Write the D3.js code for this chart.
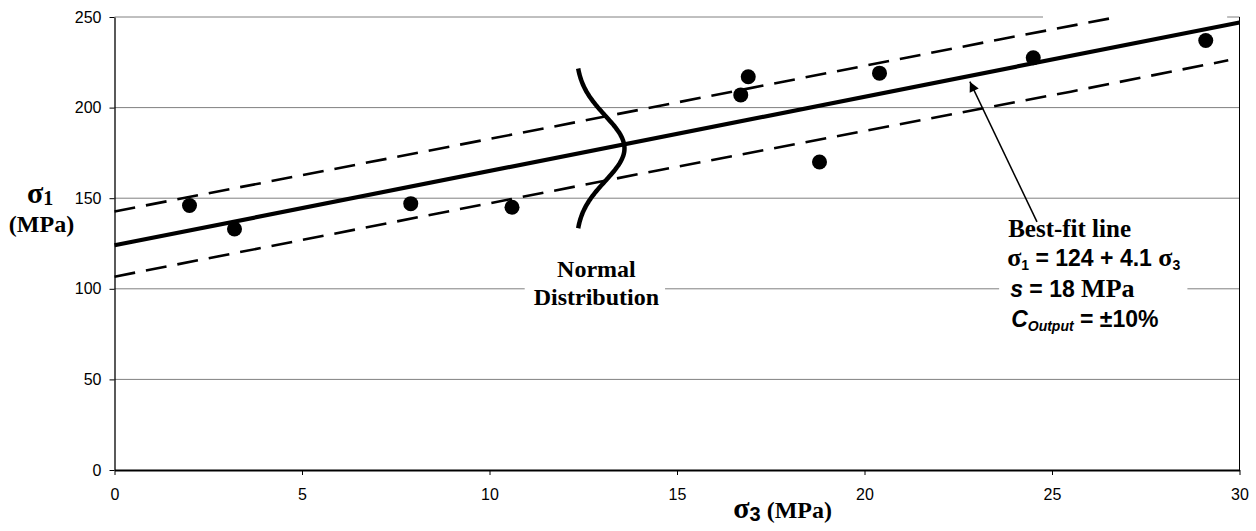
<!DOCTYPE html>
<html>
<head>
<meta charset="utf-8">
<script src="https://cdn.jsdelivr.net/npm/d3@7"></script>
<style>
  body { margin: 0; background: #fff; }
  svg { display: block; }
  .tick text { font-family: "Liberation Sans", Arial, sans-serif; font-size: 16px; fill: #000; }
  .serif { font-family: "Liberation Serif", "Times New Roman", serif; font-weight: bold; }
  .sans { font-family: "Liberation Sans", Arial, sans-serif; font-weight: bold; }
</style>
</head>
<body>
<div id="chart"></div>
<script>
// Data
var sigma3 = [2.0, 3.2, 7.9, 10.6, 16.7, 16.9, 18.8, 20.4, 24.5, 29.1];
var sigma1 = [146, 133, 147, 145, 207, 217, 170, 219, 227.5, 237];

// best-fit line  sigma1 = 124 + 4.1 sigma3
var fitIntercept = 124;
var fitSlope = 4.1;
var fitRange = [0, 30];

// dashed band (hand drawn)
var upperX = [0, 11.6, 23.6, 26.75];
var upperY = [142.7, 189.1, 237.6, 250];
var lowerX = [0, 14.55, 25.5, 29.7];
var lowerY = [106.7, 165.6, 208.8, 226.1];

// normal distribution sketch on the fit line
var normalBase = 12.3;   // sigma3 of the curve's baseline
var normalHeight = 1.3;  // bulge, in sigma3 units
var normalMean = 177.5;  // sigma1 at the peak
var normalSd = 18;       // s = 18 MPa

var xTicks = [0, 5, 10, 15, 20, 25, 30];
var yTicks = [0, 50, 100, 150, 200, 250];

// Step 1: chart area
var svgWidth = 1256;
var svgHeight = 531;
var margin = { top: 17, right: 16.5, bottom: 61, left: 114.5 };
var width = svgWidth - margin.left - margin.right;
var height = svgHeight - margin.top - margin.bottom;

var svg = d3.select("#chart").append("svg")
  .attr("width", svgWidth)
  .attr("height", svgHeight);

var chartGroup = svg.append("g")
  .attr("transform", `translate(${margin.left}, ${margin.top})`);

// Step 2: scales
var xScale = d3.scaleLinear().domain([0, 30]).range([0, width]);
var yScale = d3.scaleLinear().domain([0, 250]).range([height, 0]);

// gridlines
chartGroup.append("g")
  .selectAll("line")
  .data(yTicks.filter(d => d > 0))
  .enter()
  .append("line")
  .attr("x1", 0)
  .attr("x2", width)
  .attr("y1", d => yScale(d))
  .attr("y2", d => yScale(d))
  .attr("stroke", "#808080")
  .attr("stroke-width", 1);

// right border
chartGroup.append("line")
  .attr("x1", width).attr("x2", width)
  .attr("y1", 0).attr("y2", height)
  .attr("stroke", "#000")
  .attr("stroke-width", 1);

// Step 3: axes
var xAxis = d3.axisBottom(xScale).tickValues(xTicks).tickSize(5).tickSizeOuter(0).tickPadding(14);
var yAxis = d3.axisLeft(yScale).tickValues(yTicks).tickSize(5).tickSizeOuter(0).tickPadding(8);

var yAxisG = chartGroup.append("g").call(yAxis);
yAxisG.select(".domain").attr("stroke", "#000").attr("stroke-width", 1.3);
yAxisG.selectAll(".tick line").attr("stroke", "#000");

var xAxisG = chartGroup.append("g")
  .attr("transform", `translate(0, ${height})`)
  .call(xAxis);
xAxisG.select(".domain").attr("stroke", "#000").attr("stroke-width", 2);
xAxisG.selectAll(".tick line").attr("stroke", "#000");

// blank box hiding part of the top frame
chartGroup.append("rect")
  .attr("x", xScale(24.76))
  .attr("y", -5)
  .attr("width", xScale(29.67) - xScale(24.76))
  .attr("height", 9)
  .attr("fill", "#fff");

// Step 4: annotation text boxes (white backgrounds cut the gridlines)
function boxBehind(textSel, padL, padR, padT, padB) {
  var bb = textSel.node().getBBox();
  chartGroup.insert("rect", function() { return textSel.node(); })
    .attr("x", bb.x - padL)
    .attr("y", bb.y - padT)
    .attr("width", bb.width + padL + padR)
    .attr("height", bb.height + padT + padB)
    .attr("fill", "#fff");
}

var normalText = chartGroup.append("text")
  .attr("class", "serif")
  .attr("font-size", "24px")
  .attr("text-anchor", "middle");
normalText.append("tspan")
  .attr("x", xScale(12.85)).attr("y", yScale(106.7))
  .text("Normal");
normalText.append("tspan")
  .attr("x", xScale(12.85)).attr("y", yScale(91.1))
  .text("Distribution");
boxBehind(normalText, 9, 6, 2, 2);

var fitText = chartGroup.append("text").attr("fill", "#000");
var bx = xScale(23.83);

var l1 = fitText.append("tspan")
  .attr("class", "serif").attr("font-size", "25px")
  .attr("x", bx).attr("y", yScale(128.6))
  .text("Best-fit line");

fitText.append("tspan")
  .attr("class", "serif").attr("font-size", "26px")
  .attr("x", bx - 1).attr("y", yScale(112.6))
  .text("σ");
fitText.append("tspan")
  .attr("class", "sans").attr("font-size", "14px")
  .attr("dy", 4)
  .text("1");
fitText.append("tspan")
  .attr("class", "sans").attr("font-size", "23px")
  .attr("dy", -4)
  .text(" = " + fitIntercept + " + " + fitSlope + " ");
fitText.append("tspan")
  .attr("class", "serif").attr("font-size", "26px")
  .text("σ");
fitText.append("tspan")
  .attr("class", "sans").attr("font-size", "14px")
  .attr("dy", 4)
  .text("3");

fitText.append("tspan")
  .attr("class", "sans").attr("font-size", "23px").attr("font-style", "italic")
  .attr("x", bx + 2).attr("y", yScale(95.5))
  .text("s");
fitText.append("tspan")
  .attr("class", "sans").attr("font-size", "23px")
  .text(" = " + normalSd + " ");
fitText.append("tspan")
  .attr("class", "serif").attr("font-size", "26px")
  .text("MPa");

fitText.append("tspan")
  .attr("class", "sans").attr("font-size", "23px").attr("font-style", "italic")
  .attr("x", bx + 3).attr("y", yScale(78.9))
  .text("C");
fitText.append("tspan")
  .attr("class", "sans").attr("font-size", "14px").attr("font-style", "italic")
  .attr("dy", 4)
  .text("Output");
fitText.append("tspan")
  .attr("class", "sans").attr("font-size", "23px")
  .attr("dy", -4)
  .text(" = ±10%");
boxBehind(fitText, 8, 7, 4, 8);

// Step 5: lines
var bandLine = d3.line()
  .x(d => xScale(d[0]))
  .y(d => yScale(d[1]));

chartGroup.append("path")
  .datum(d3.zip(upperX, upperY))
  .attr("d", bandLine)
  .attr("fill", "none")
  .attr("stroke", "#000")
  .attr("stroke-width", 2.6)
  .attr("stroke-dasharray", "21,11");

chartGroup.append("path")
  .datum(d3.zip(lowerX, lowerY))
  .attr("d", bandLine)
  .attr("fill", "none")
  .attr("stroke", "#000")
  .attr("stroke-width", 2.6)
  .attr("stroke-dasharray", "21,11");

chartGroup.append("path")
  .datum(fitRange.map(x => [x, fitIntercept + fitSlope * x]))
  .attr("d", bandLine)
  .attr("fill", "none")
  .attr("stroke", "#000")
  .attr("stroke-width", 4.2);

// normal distribution, turned on its side
var normalPts = d3.range(-2.45, 2.451, 0.05).map(function(z) {
  return [normalBase + normalHeight * Math.exp(-z * z / 2), normalMean + z * normalSd];
});
chartGroup.append("path")
  .datum(normalPts)
  .attr("d", d3.line().x(d => xScale(d[0])).y(d => yScale(d[1])).curve(d3.curveBasis))
  .attr("fill", "none")
  .attr("stroke", "#000")
  .attr("stroke-width", 4.5);

// Step 6: points
chartGroup.append("g")
  .selectAll("circle")
  .data(d3.zip(sigma3, sigma1))
  .enter()
  .append("circle")
  .attr("cx", d => xScale(d[0]))
  .attr("cy", d => yScale(d[1]))
  .attr("r", 7.5)
  .attr("fill", "#000");

// arrow to the fit line
svg.append("defs").append("marker")
  .attr("id", "head")
  .attr("viewBox", "0 0 10 10")
  .attr("refX", 10).attr("refY", 5)
  .attr("markerWidth", 12).attr("markerHeight", 10)
  .attr("markerUnits", "userSpaceOnUse")
  .attr("orient", "auto")
  .append("path")
  .attr("d", "M0,0 L10,5 L0,10 Z")
  .attr("fill", "#000");

chartGroup.append("line")
  .attr("x1", xScale(24.6)).attr("y1", yScale(136.9))
  .attr("x2", xScale(22.81)).attr("y2", yScale(214.3))
  .attr("stroke", "#000")
  .attr("stroke-width", 1.5)
  .attr("marker-end", "url(#head)");

// Step 7: axis titles
var yTitle = svg.append("text").attr("fill", "#000");
yTitle.append("tspan")
  .attr("class", "serif").attr("font-size", "30px")
  .attr("x", 27).attr("y", 203)
  .text("σ");
yTitle.append("tspan")
  .attr("class", "serif").attr("font-size", "20px")
  .attr("dy", 2)
  .text("1");
svg.append("text")
  .attr("class", "serif")
  .attr("font-size", "24px")
  .attr("text-anchor", "middle")
  .attr("x", 41.5).attr("y", 232)
  .text("(MPa)");

var xTitle = svg.append("text").attr("fill", "#000")
  .attr("x", margin.left + xScale(16.5)).attr("y", 518);
xTitle.append("tspan")
  .attr("class", "serif").attr("font-size", "30px")
  .text("σ");
xTitle.append("tspan")
  .attr("class", "sans").attr("font-size", "20px")
  .attr("dy", 3)
  .text("3");
xTitle.append("tspan")
  .attr("class", "serif").attr("font-size", "24px")
  .attr("dy", -3)
  .text(" (MPa)");
</script>
</body>
</html>
